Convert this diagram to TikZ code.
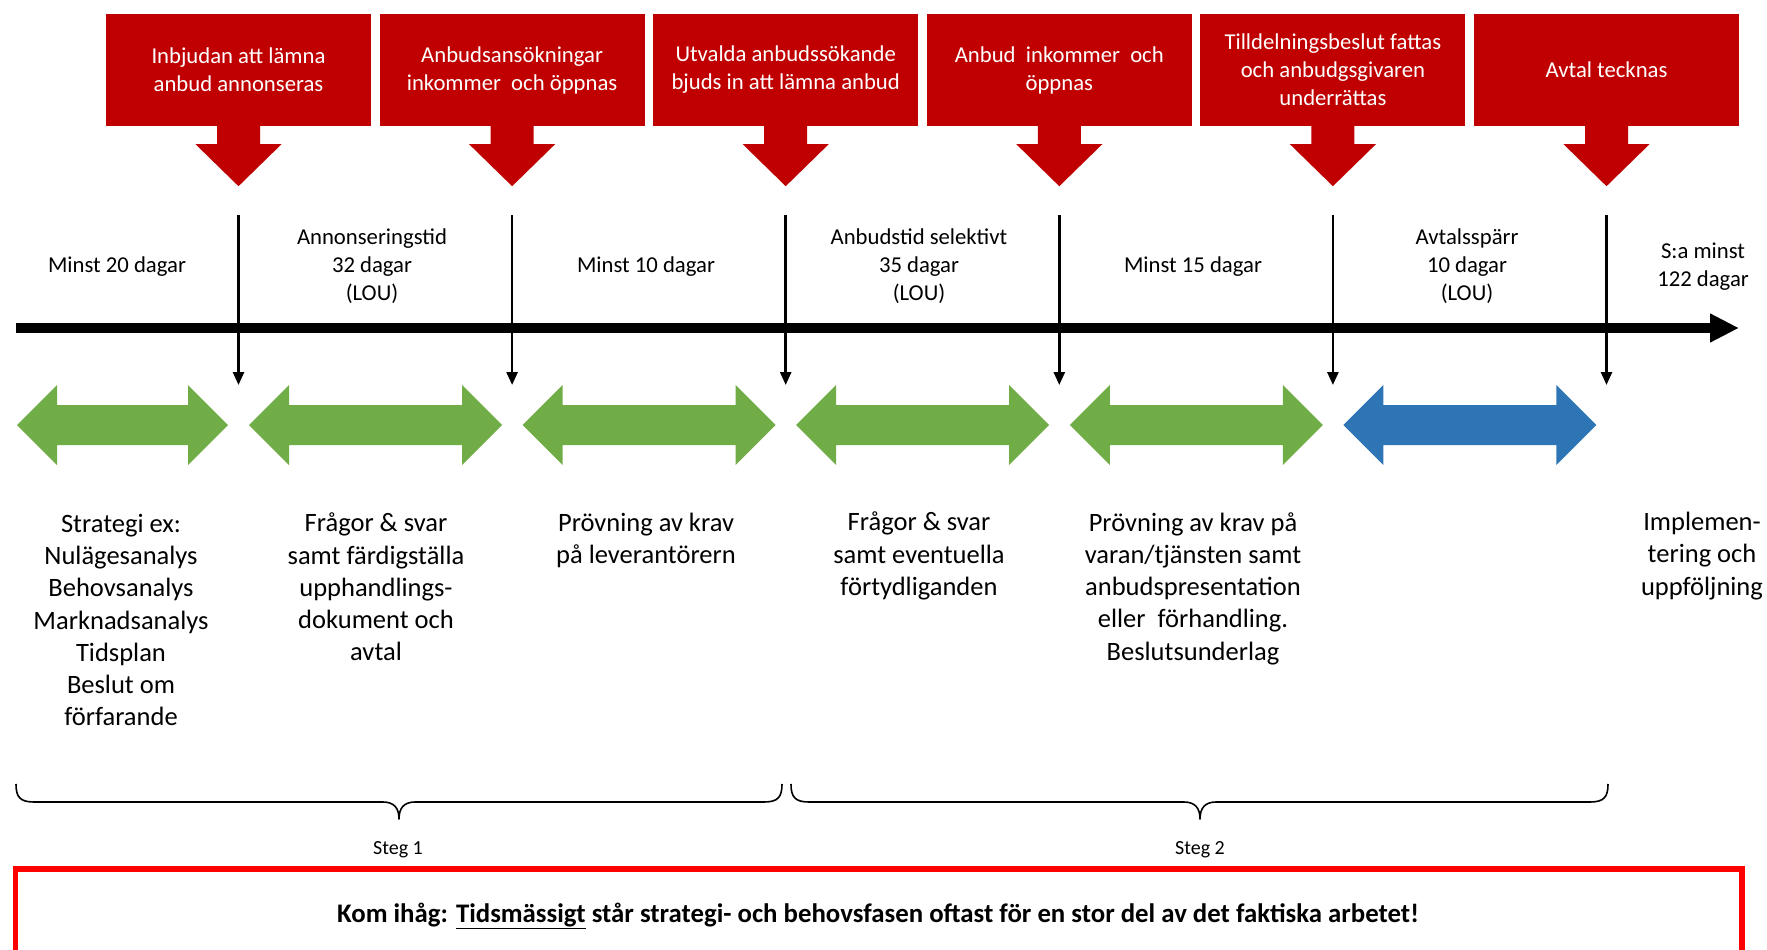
\documentclass[tikz,border=0pt]{standalone}
\usepackage{fontspec}
\setmainfont{Carlito}
\usetikzlibrary{arrows.meta}
\definecolor{boxred}{HTML}{C00000}
\definecolor{phasegreen}{HTML}{70AD47}
\definecolor{phaseblue}{HTML}{2E75B6}
\definecolor{noteframe}{HTML}{FF0000}

\begin{document}
\begin{tikzpicture}[x=1pt,y=-1pt,
  eventbox/.style={fill=boxred, minimum width=265pt, minimum height=112pt,
    inner sep=0pt, text=white, align=center,
    font=\fontsize{22.7}{28}\selectfont},
  spanlabel/.style={inner sep=0pt, align=center,
    font=\fontsize{22.7}{28}\selectfont},
  tasktext/.style={inner sep=0pt, align=center,
    font=\fontsize{26.5}{32.2}\selectfont},
  steplabel/.style={inner sep=0pt, font=\fontsize{20}{24}\selectfont},
  tickline/.style={line width=2.6pt, -{Triangle[length=13pt,width=11pt]}},
  bracestyle/.style={line width=1.6pt, line join=round},
]
\useasboundingbox (0,0) rectangle (1767,950);

% event boxes along the top
\node[eventbox] (box1) at (238.5,70)  {Inbjudan att lämna\\anbud annonseras};
\node[eventbox] (box2) at (512.1,70)  {Anbudsansökningar\\inkommer\ \ och öppnas};
\node[eventbox] (box3) at (785.7,70)  {Utvalda anbudssökande\\bjuds in att lämna anbud};
\node[eventbox] (box4) at (1059.3,70) {Anbud\ \ inkommer\ \ och\\öppnas};
\node[eventbox] (box5) at (1332.9,70) {Tilldelningsbeslut fattas\\och anbudgsgivaren\\underrättas};
\node[eventbox] (box6) at (1606.5,70) {Avtal tecknas};

% block arrows below each box
\foreach \b in {box1,box2,box3,box4,box5,box6} {
  \fill[boxred] (\b.south) ++(-21.5,-1) -- ++(0,19) -- ++(-21.5,0)
    -- ++(43,42) -- ++(43,-42) -- ++(-21.5,0) -- ++(0,-19) -- cycle;
}

% time axis
\coordinate (axs) at (16,328);
\coordinate (axe) at (1739,328);
\draw[line width=9.5pt, -{Triangle[length=29pt,width=27pt]}] (axs) -- (axe);

% milestone ticks
\foreach \i/\x in {1/238.5,2/512.1,3/785.7,4/1059.3,5/1332.9,6/1606.5} {
  \coordinate (t\i) at (\x,215);
  \coordinate (e\i) at (\x,385);
  \draw[tickline] (t\i) -- (e\i);
}

% durations between milestones
\node[spanlabel] (d1) at (117,267)    {Minst 20 dagar};
\node[spanlabel] (d2) at (372,266)    {Annonseringstid\\32 dagar\\(LOU)};
\node[spanlabel] (d3) at (646,267)    {Minst 10 dagar};
\node[spanlabel] (d4) at (919,266)    {Anbudstid selektivt\\35 dagar\\(LOU)};
\node[spanlabel] (d5) at (1193,267)   {Minst 15 dagar};
\node[spanlabel] (d6) at (1467,266)   {Avtalsspärr\\10 dagar\\(LOU)};
\node[spanlabel] (d7) at (1703,267)   {S:a minst\\122 dagar};

% phase arrows
\foreach \cx/\L/\col in {122.5/105.5/phasegreen, 375.5/126.5/phasegreen,
    649.1/126.5/phasegreen, 922.7/126.5/phasegreen, 1196.3/126.5/phasegreen,
    1469.9/126.5/phaseblue} {
  \fill[\col] (\cx-\L,425) -- (\cx-\L+40,385) -- (\cx-\L+40,405)
    -- (\cx+\L-40,405) -- (\cx+\L-40,385) -- (\cx+\L,425)
    -- (\cx+\L-40,465) -- (\cx+\L-40,445) -- (\cx-\L+40,445)
    -- (\cx-\L+40,465) -- cycle;
}

% activities in each phase
\node[tasktext] (a1) at (121,620) {Strategi ex:\\Nulägesanalys\\Behovsanalys\\Marknadsanalys\\Tidsplan\\Beslut om\\förfarande};
\node[tasktext] (a2) at (376,587) {Frågor \& svar\\samt färdigställa\\upphandlings-\\dokument och\\avtal};
\node[tasktext] (a3) at (646,540.5) {Prövning av krav\\på leverantörern};
\node[tasktext] (a4) at (919,556) {Frågor \& svar\\samt eventuella\\förtydliganden};
\node[tasktext] (a5) at (1193,588.5) {Prövning av krav på\\varan/tjänsten samt\\anbudspresentation\\eller\ \ förhandling.\\Beslutsunderlag};
\node[tasktext] (a6) at (1702,556) {Implemen-\\tering och\\uppföljning};

% stage braces
\draw[bracestyle] (16,784) .. controls (16,797) and (20,802) .. (34,802)
  -- (383,802) .. controls (394,802) and (399,808) .. (399,819)
  .. controls (399,808) and (404,802) .. (415,802)
  -- (764,802) .. controls (778,802) and (782,797) .. (782,784);
\draw[bracestyle] (791,784) .. controls (791,797) and (795,802) .. (809,802)
  -- (1184,802) .. controls (1195,802) and (1200,808) .. (1200,819)
  .. controls (1200,808) and (1205,802) .. (1216,802)
  -- (1590,802) .. controls (1604,802) and (1608,797) .. (1608,784);
\node[steplabel] (s1) at (398,850) {Steg 1};
\node[steplabel] (s2) at (1200,850) {Steg 2};

% reminder frame
\draw[noteframe, line width=5.5pt] (15.5,1000) -- (15.5,869) -- (1742,869) -- (1742,1000);
\node[inner sep=0pt, font=\fontsize{26.8}{32}\selectfont\bfseries] (note) at (878,916)
  {Kom ihåg: \underline{Tidsmässigt} står strategi- och behovsfasen oftast för en stor del av det faktiska arbetet!};
\end{tikzpicture}
\end{document}
